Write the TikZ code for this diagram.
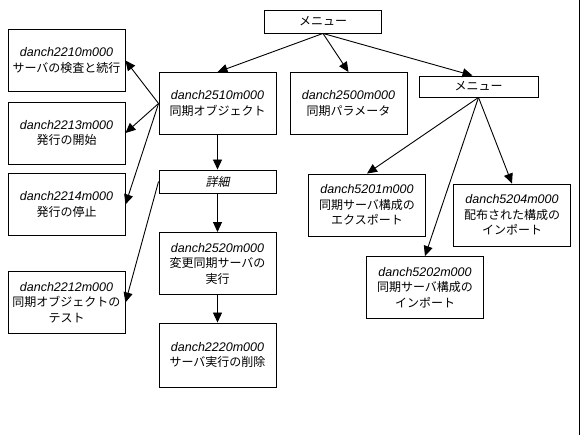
\documentclass[tikz,border=0pt]{standalone}
\usepackage{fontspec}
\setmainfont{Liberation Sans}
\newfontfamily\jp{Noto Sans CJK JP}
\newfontfamily\jpit[FakeSlant=0.2]{Noto Sans CJK JP}
\usetikzlibrary{arrows.meta}
\newcommand{\cd}[1]{{\fontsize{12.5}{15}\selectfont\normalfont\itshape #1}}

\begin{document}
\begin{tikzpicture}[
x=1pt, y=-1pt,
line width=0.9pt,
box/.style={draw, minimum width=117pt, minimum height=62pt, align=center, inner sep=1pt, font=\fontsize{12}{15.5}\selectfont\jp},
bar/.style={draw, minimum width=117pt, minimum height=23pt, inner sep=1pt, font=\fontsize{12}{15.5}\selectfont\jp},
arr/.style={-{Triangle[length=10pt,width=9pt]}}]

\useasboundingbox (0,0) rectangle (581,435);

\node[bar] (m) at (323,21.5) {メニュー};
\node[box] (a) at (217.5,103.5) {\cd{danch2510m000}\\同期オブジェクト};
\node[box] (p) at (348.5,103.5) {\cd{danch2500m000}\\同期パラメータ};
\node[bar, minimum width=119pt, minimum height=21pt] (n) at (478.5,86.5) {メニュー};

\node[box] (b1) at (66.5,60.5) {\cd{danch2210m000}\\サーバの検査と続行};
\node[box] (b2) at (66.5,133) {\cd{danch2213m000}\\発行の開始};
\node[box] (b3) at (66.5,204.5) {\cd{danch2214m000}\\発行の停止};
\node[box] (b4) at (66.5,302.5) {\cd{danch2212m000}\\同期オブジェクトの\\テスト};

\node[bar] (d) at (217.5,181.5) {\jpit 詳細};
\node[box] (r) at (217.5,263.5) {\cd{danch2520m000}\\変更同期サーバの\\実行};
\node[box, minimum height=64pt] (x) at (217.5,355) {\cd{danch2220m000}\\サーバ実行の削除};

\node[box] (e) at (367,205) {\cd{danch5201m000}\\同期サーバ構成の\\エクスポート};
\node[box] (g) at (512,215) {\cd{danch5204m000}\\配布された構成の\\インポート};
\node[box] (i) at (425,287.5) {\cd{danch5202m000}\\同期サーバ構成の\\インポート};

\draw[arr] (m.south) -- (a.north);
\draw[arr] (m.south) -- (p.north);
\draw[arr] (m.south) -- ([xshift=-6pt]n.north);
\foreach \t in {b1,b2,b3}
  \draw[arr] (a.west) -- (\t.east);
\draw[arr] (d.west) -- (b4.east);
\draw[arr] (a.south) -- (d.north);
\draw[arr] (d.south) -- (r.north);
\draw[arr] (r.south) -- (x.north);
\foreach \t in {e,i,g}
  \draw[arr] (n.south) -- (\t.north);

\draw (579.5,0) -- (579.5,435);
\end{tikzpicture}
\end{document}
